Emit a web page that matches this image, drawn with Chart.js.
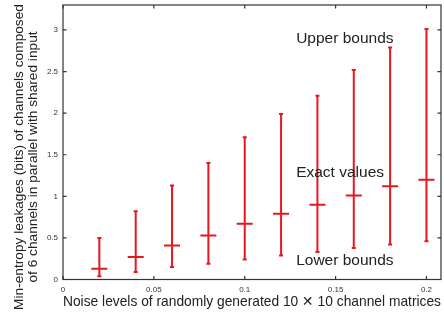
<!DOCTYPE html>
<html>
<head>
<meta charset="utf-8">
<script src="https://cdn.jsdelivr.net/npm/chart.js@4"></script>
<style>
  html, body { margin: 0; padding: 0; background: #fff; }
  #wrap { width: 444px; height: 316px; }
</style>
</head>
<body>
<div id="wrap"><canvas id="myChart" width="444" height="316"></canvas></div>
<script>
// data
var noiseLevels = [0.02, 0.04, 0.06, 0.08, 0.10, 0.12, 0.14, 0.16, 0.18, 0.20];
var upperBounds = [0.50, 0.82, 1.13, 1.40, 1.71, 1.99, 2.21, 2.52, 2.79, 3.01];
var exactValues = [0.13, 0.27, 0.41, 0.53, 0.67, 0.79, 0.90, 1.01, 1.12, 1.20];
var lowerBounds = [0.04, 0.09, 0.15, 0.19, 0.24, 0.29, 0.33, 0.38, 0.42, 0.46];

var xTicks = [0, 0.05, 0.1, 0.15, 0.2];
var yTicks = [0, 0.5, 1, 1.5, 2, 2.5, 3];

var labelTexts = ['Upper bounds', 'Exact values', 'Lower bounds'];

var red = '#e8161e';
var font = "'Liberation Sans', Arial, sans-serif";

// vertical bars: lower -> upper, broken by null points
var barData = [];
noiseLevels.forEach(function(x, i) {
    barData.push({x: x, y: lowerBounds[i]});
    barData.push({x: x, y: upperBounds[i]});
    barData.push({x: x, y: null});
});
var upperData = noiseLevels.map((x, i) => ({x: x, y: upperBounds[i]}));
var lowerData = noiseLevels.map((x, i) => ({x: x, y: lowerBounds[i]}));
var exactData = noiseLevels.map((x, i) => ({x: x, y: exactValues[i]}));

// text labels placed in data coordinates
var labelSpots = [
    {x: 0.1283, y: 2.90},
    {x: 0.1283, y: 1.28},
    {x: 0.1283, y: 0.23}
];

function noPad(scale) {
    scale.paddingLeft = 0;
    scale.paddingRight = 0;
    scale.paddingTop = 0;
    scale.paddingBottom = 0;
}

var framePlugin = {
    id: 'frame',
    afterDraw: function(chart) {
        var ctx = chart.ctx;
        var a = chart.chartArea;
        var xs = chart.scales.x, ys = chart.scales.y;
        ctx.save();
        ctx.strokeStyle = '#333';
        ctx.lineWidth = 1.2;
        ctx.strokeRect(a.left, a.top, a.right - a.left, a.bottom - a.top);
        ctx.beginPath();
        xs.ticks.forEach(function(t) {
            var px = xs.getPixelForValue(t.value);
            ctx.moveTo(px, a.bottom); ctx.lineTo(px, a.bottom - 3.5);
            ctx.moveTo(px, a.top); ctx.lineTo(px, a.top + 3.5);
        });
        ys.ticks.forEach(function(t) {
            var py = ys.getPixelForValue(t.value);
            ctx.moveTo(a.left, py); ctx.lineTo(a.left + 3.5, py);
            ctx.moveTo(a.right, py); ctx.lineTo(a.right - 3.5, py);
        });
        ctx.stroke();

        // annotations
        ctx.fillStyle = '#222';
        ctx.font = '15.5px ' + font;
        ctx.textAlign = 'left';
        ctx.textBaseline = 'middle';
        labelTexts.forEach(function(txt, i) {
            ctx.fillText(txt, xs.getPixelForValue(labelSpots[i].x), ys.getPixelForValue(labelSpots[i].y));
        });

        // y axis title (two lines)
        ctx.font = '13.7px ' + font;
        ctx.textAlign = 'center';
        ctx.translate(0, 157);
        ctx.rotate(-Math.PI / 2);
        ctx.fillText('Min-entropy leakages (bits) of channels composed', 0, 19);
        ctx.fillText('of 6 channels in parallel with shared input', 0, 33);
        ctx.restore();
    }
};

var ctx = document.getElementById('myChart').getContext('2d');
var myChart = new Chart(ctx, {
    type: 'scatter',
    data: {
        datasets: [
            {
                label: 'Exact values',
                data: exactData,
                pointStyle: 'line',
                pointRadius: 8,
                pointBorderWidth: 2,
                borderColor: red,
                backgroundColor: red
            },
            {
                label: 'Upper bounds',
                data: upperData,
                pointStyle: 'line',
                pointRadius: 2,
                pointBorderWidth: 2,
                borderColor: red,
                backgroundColor: red
            },
            {
                label: 'Lower bounds',
                data: lowerData,
                pointStyle: 'line',
                pointRadius: 2,
                pointBorderWidth: 2,
                borderColor: red,
                backgroundColor: red
            },
            {
                label: 'Range',
                data: barData,
                showLine: true,
                spanGaps: false,
                pointRadius: 0,
                borderWidth: 2,
                borderColor: red,
                fill: false
            }
        ]
    },
    options: {
        responsive: false,
        animation: false,
        layout: { autoPadding: false, padding: { top: 5, right: 3, left: 0, bottom: 0 } },
        plugins: {
            legend: { display: false },
            tooltip: { enabled: false }
        },
        scales: {
            x: {
                type: 'linear',
                min: 0,
                max: 0.208,
                grid: { display: false, drawTicks: false },
                border: { display: false },
                afterBuildTicks: function(scale) {
                    scale.ticks = xTicks.map(v => ({value: v}));
                },
                afterFit: function(scale) { scale.height = 36.5; noPad(scale); },
                ticks: {
                    padding: 5,
                    color: '#333',
                    font: { family: font, size: 8 },
                    maxRotation: 0,
                    callback: v => String(+v.toFixed(3))
                },
                title: {
                    display: true,
                    text: 'Noise levels of randomly generated 10 \u2715 10 channel matrices',
                    color: '#222',
                    font: { family: font, size: 14.2 },
                    padding: { top: 0, bottom: 5 }
                }
            },
            y: {
                type: 'linear',
                min: 0,
                max: 3.3,
                grid: { display: false, drawTicks: false },
                border: { display: false },
                afterBuildTicks: function(scale) {
                    scale.ticks = yTicks.map(v => ({value: v}));
                },
                afterFit: function(scale) { scale.width = 63; noPad(scale); },
                ticks: {
                    padding: 5,
                    color: '#333',
                    font: { family: font, size: 8 },
                    callback: v => String(+v.toFixed(2))
                }
            }
        }
    },
    plugins: [framePlugin]
});
</script>
</body>
</html>
